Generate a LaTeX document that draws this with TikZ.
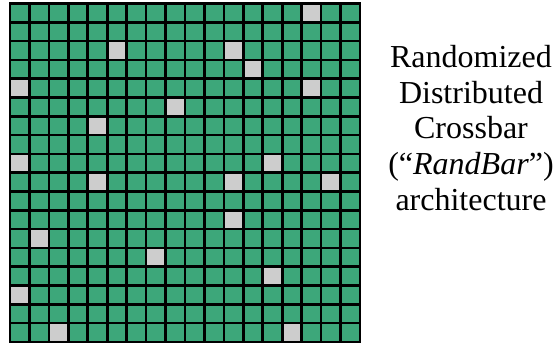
\documentclass[tikz,border=0pt]{standalone}
\usepackage{fontspec}
\setmainfont{Liberation Serif}
\definecolor{cellgreen}{RGB}{61,167,122}
\definecolor{cellgray}{RGB}{205,205,205}
\begin{document}
\begin{tikzpicture}[x=1pt,y=-1pt,
  cell/.style={fill=cellgreen,draw=black,line width=2.6pt},
  graycell/.style={fill=cellgray,draw=black,line width=2.6pt},
  label/.style={font=\fontsize{32}{38}\selectfont,anchor=base,inner sep=0pt}]
\useasboundingbox (0,0) rectangle (558,343);
\pgfmathsetmacro{\cw}{350/18}
\pgfmathsetmacro{\ch}{338.5/18}
\foreach \c in {0,...,17}{
  \foreach \r in {0,...,17}{
    \path[cell] ({10+\c*\cw},{3.5+\r*\ch}) rectangle ++(\cw,\ch);
  }
}
\foreach \c/\r in {15/0,5/2,11/2,12/3,0/4,15/4,8/5,4/6,0/8,13/8,4/9,11/9,16/9,11/11,1/12,7/13,13/14,0/15,2/17,14/17}{
  \path[graycell] ({10+\c*\cw},{3.5+\r*\ch}) rectangle ++(\cw,\ch);
}
\node[label] (t1) at (471,67.7) {Randomized};
\node[label] (t2) at (471,103.3) {Distributed};
\node[label] (t3) at (471,138.9) {Crossbar};
\node[label] (t4) at (471,174.5) {(“\textit{RandBar}”)};
\node[label] (t5) at (471,210.1) {architecture};
\end{tikzpicture}
\end{document}
